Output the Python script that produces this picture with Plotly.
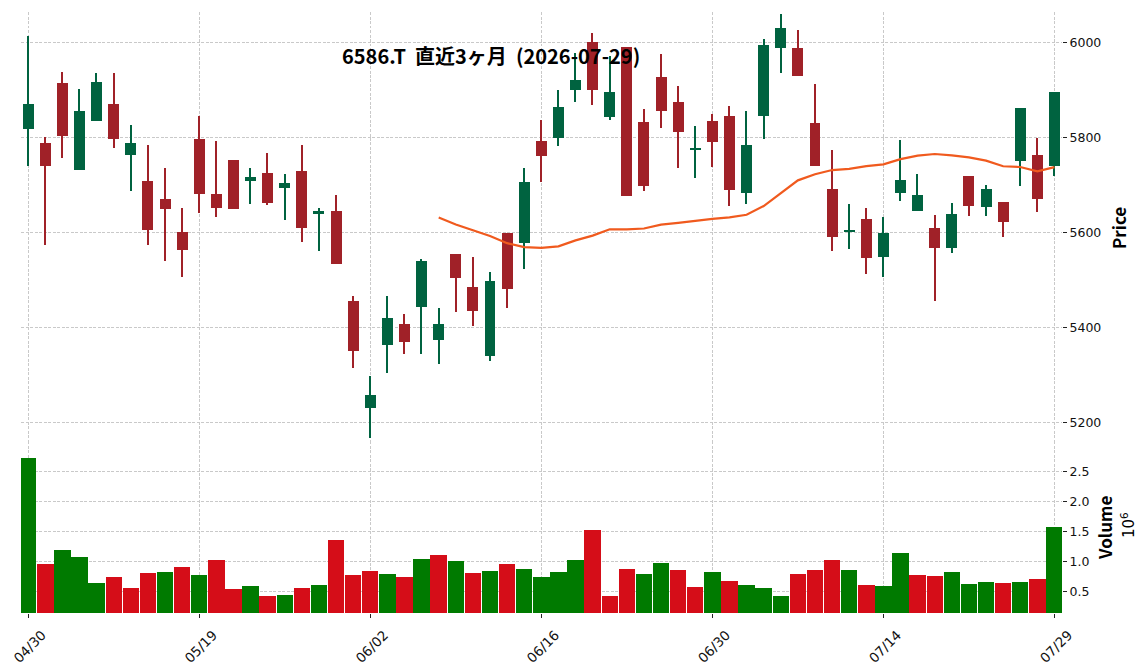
import plotly.graph_objects as go
import pandas as pd

# ---- data -------------------------------------------------------------
dates = [
    "04/30", "05/01", "05/07", "05/08", "05/11", "05/12", "05/13", "05/14", "05/15", "05/18",
    "05/19", "05/20", "05/21", "05/22", "05/25", "05/26", "05/27", "05/28", "05/29", "06/01",
    "06/02", "06/03", "06/04", "06/05", "06/08", "06/09", "06/10", "06/11", "06/12", "06/15",
    "06/16", "06/17", "06/18", "06/19", "06/22", "06/23", "06/24", "06/25", "06/26", "06/29",
    "06/30", "07/01", "07/02", "07/03", "07/06", "07/07", "07/08", "07/09", "07/10", "07/13",
    "07/14", "07/15", "07/16", "07/17", "07/21", "07/22", "07/23", "07/24", "07/27", "07/28",
    "07/29",
]
opens = [5818, 5788, 5914, 5731, 5834, 5870, 5763, 5708, 5670, 5601,
         5796, 5681, 5752, 5709, 5725, 5694, 5729, 5639, 5645, 5455,
         5231, 5364, 5407, 5444, 5373, 5554, 5485, 5340, 5599, 5578,
         5792, 5799, 5900, 6001, 5843, 5991, 5832, 5927, 5874, 5774,
         5834, 5845, 5684, 5844, 5989, 5988, 5830, 5691, 5602, 5628,
         5549, 5684, 5645, 5609, 5568, 5719, 5654, 5664, 5751, 5763,
         5740]
highs = [6013, 5801, 5937, 5901, 5935, 5935, 5827, 5785, 5735, 5651,
         5846, 5792, 5752, 5735, 5768, 5724, 5785, 5651, 5678, 5466,
         5299, 5467, 5429, 5545, 5442, 5554, 5549, 5517, 5599, 5735,
         5836, 5899, 5977, 6019, 5972, 5991, 5860, 5975, 5909, 5823,
         5850, 5865, 5855, 6006, 6059, 6025, 5912, 5773, 5659, 5651,
         5632, 5794, 5724, 5636, 5661, 5719, 5699, 5664, 5862, 5798,
         5896]
lows = [5739, 5573, 5756, 5731, 5834, 5777, 5688, 5573, 5541, 5507,
        5640, 5632, 5650, 5659, 5657, 5627, 5581, 5562, 5534, 5314,
        5168, 5305, 5345, 5345, 5324, 5433, 5404, 5330, 5442, 5524,
        5707, 5781, 5874, 5869, 5837, 5676, 5688, 5819, 5735, 5714,
        5738, 5655, 5660, 5796, 5935, 5930, 5740, 5561, 5566, 5512,
        5507, 5666, 5645, 5455, 5556, 5634, 5634, 5590, 5698, 5643,
        5719]
closes = [5870, 5740, 5803, 5855, 5916, 5796, 5788, 5605, 5649, 5564,
          5681, 5652, 5650, 5717, 5662, 5704, 5610, 5646, 5534, 5351,
          5258, 5420, 5370, 5540, 5407, 5505, 5435, 5498, 5481, 5706,
          5761, 5864, 5921, 5900, 5895, 5676, 5698, 5856, 5812, 5778,
          5791, 5690, 5784, 5994, 6030, 5930, 5740, 5591, 5606, 5547,
          5599, 5710, 5679, 5568, 5639, 5655, 5691, 5622, 5862, 5671,
          5896]
volumes = [2720000, 956000, 1189000, 1072000, 639000, 739000, 556000, 806000, 822000, 906000,
           772000, 1022000, 539000, 589000, 422000, 439000, 556000, 606000, 1356000, 772000,
           839000, 789000, 739000, 1039000, 1106000, 1006000, 806000, 839000, 956000, 872000,
           739000, 822000, 1022000, 1522000, 422000, 872000, 789000, 972000, 856000, 572000,
           822000, 672000, 606000, 556000, 422000, 789000, 856000, 1022000, 856000, 606000,
           589000, 1139000, 772000, 756000, 822000, 622000, 656000, 639000, 656000, 706000,
           1572000]
ma_window = 25
tick_step = 10

title_text = "6586.T  直近3ヶ月  (2026-07-29)"

# ---- styles -----------------------------------------------------------
UP, DOWN = "#006340", "#a02128"
VUP, VDOWN = "#007a00", "#d50d18"
MA_COLOR = "#f05a1e"
GRID = "#c9c9c9"
TICKFONT = dict(family="DejaVu Sans", size=12.5, color="#111111")
XTICKFONT = dict(family="DejaVu Sans", size=13.5, color="#111111")
LABELFONT = dict(family="Noto Sans CJK JP", size=17, color="#000000")

n = len(dates)
idx = list(range(n))
candle_col = [UP if c >= o else DOWN for o, c in zip(opens, closes)]
vol_col = [VUP if (closes[i] >= (closes[i - 1] if i > 0 else opens[i])) else VDOWN for i in idx]
body_base = [min(o, c) for o, c in zip(opens, closes)]
body_h = [abs(c - o) for o, c in zip(opens, closes)]
wick_h = [h - l for h, l in zip(highs, lows)]
ma = pd.Series(closes).rolling(ma_window).mean()

fig = go.Figure()
# wicks
fig.add_trace(go.Bar(x=idx, y=wick_h, base=lows, width=0.08,
                     marker=dict(color=candle_col, line=dict(width=0)),
                     xaxis="x", yaxis="y", hoverinfo="skip", showlegend=False))
# bodies
fig.add_trace(go.Bar(x=idx, y=body_h, base=body_base, width=0.64,
                     marker=dict(color=candle_col, line=dict(width=0)),
                     xaxis="x", yaxis="y", showlegend=False))
# moving average
fig.add_trace(go.Scatter(x=idx, y=ma, mode="lines",
                         line=dict(color=MA_COLOR, width=2.2),
                         xaxis="x", yaxis="y", showlegend=False))
# volume
fig.add_trace(go.Bar(x=idx, y=[v / 1e6 for v in volumes], width=0.96,
                     marker=dict(color=vol_col, line=dict(width=0)),
                     xaxis="x2", yaxis="y2", showlegend=False))

tickvals = idx[::tick_step]
ticktext = dates[::tick_step]

W, H = 1148, 670
L, R, T, B = 21, 1062, 12, 613
split_px = 441
split = (B - split_px) / (B - T)

def px_x(p):
    return (p - L) / (R - L)

def px_y(p):
    return (B - p) / (B - T)

common_x = dict(range=[-0.42, 60.44], showgrid=True, gridcolor=GRID, gridwidth=0.8,
                griddash="3px,1.5px", zeroline=False, showline=False, automargin=False,
                tickmode="array", tickvals=tickvals)
common_y = dict(side="right", showgrid=True, gridcolor=GRID, gridwidth=0.8,
                griddash="3px,1.5px", zeroline=False, showline=False, automargin=False,
                ticks="outside", ticklen=4, tickwidth=1, tickcolor="#222222",
                tickfont=TICKFONT)

fig.update_layout(
    width=W, height=H,
    margin=dict(l=L, r=W - R, t=T, b=H - B, autoexpand=False),
    paper_bgcolor="white", plot_bgcolor="white",
    barmode="overlay", bargap=0,
    xaxis=dict(domain=[0, 1], anchor="y", showticklabels=False, ticks="", **common_x),
    xaxis2=dict(domain=[0, 1], anchor="y2", matches="x", ticktext=ticktext,
                ticks="outside", ticklen=4, tickwidth=1, tickcolor="#222222",
                tickangle=-45, tickfont=XTICKFONT, ticklabelshift=14,
                ticklabelstandoff=4, **common_x),
    yaxis=dict(domain=[split, 1], range=[5161.5, 6063.7],
               tickvals=[5200, 5400, 5600, 5800, 6000], **common_y),
    yaxis2=dict(domain=[0, split], range=[0.143, 3.005],
                tickvals=[0.5, 1.0, 1.5, 2.0, 2.5],
                ticktext=["0.5", "1.0", "1.5", "2.0", "2.5"], **common_y),
    annotations=[
        dict(text="<b>" + title_text + "</b>", xref="paper", yref="paper",
             x=px_x(491), y=px_y(55), xanchor="center", yanchor="middle", showarrow=False,
             font=dict(family="Noto Sans CJK JP", size=20, color="#000000")),
        dict(text="<b>Price</b>", xref="paper", yref="paper", x=px_x(1118), y=px_y(228),
             xanchor="center", yanchor="middle", textangle=-90, showarrow=False, font=LABELFONT),
        dict(text="<b>Volume</b>", xref="paper", yref="paper", x=px_x(1104), y=px_y(528),
             xanchor="center", yanchor="middle", textangle=-90, showarrow=False, font=LABELFONT),
        dict(text="10<sup>6</sup>", xref="paper", yref="paper", x=px_x(1128), y=px_y(525),
             xanchor="center", yanchor="middle", textangle=-90, showarrow=False,
             font=dict(family="DejaVu Sans", size=15, color="#000000")),
    ],
)

fig.write_html("out.html")
